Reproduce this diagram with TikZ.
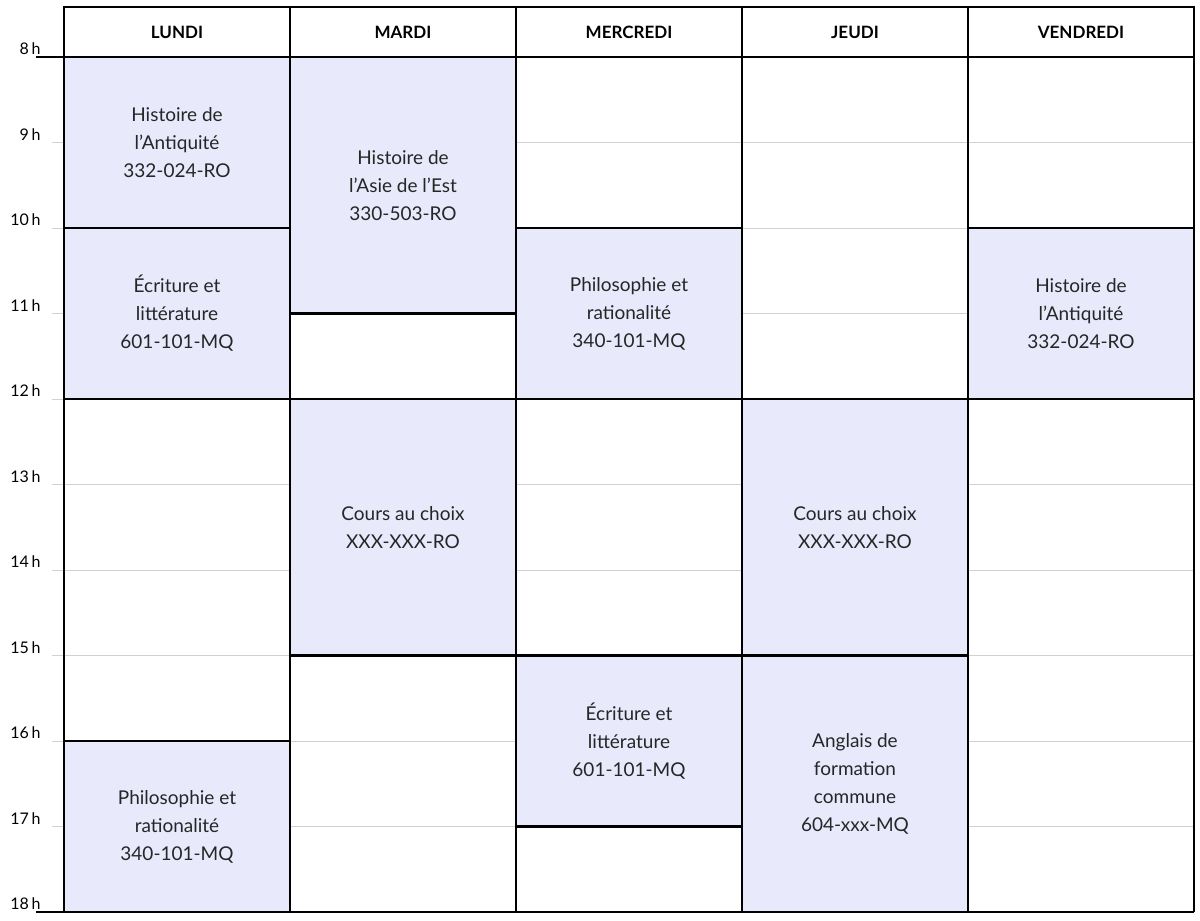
\documentclass[tikz,border=0pt]{standalone}
\usepackage{fontspec}
\setmainfont{Lato}
\definecolor{blk}{RGB}{232,234,252}
\begin{document}
\begin{tikzpicture}[x=1pt,y=-1pt,
  blockbox/.style={draw=black,line width=2.4pt,fill=blk},
  lbl/.style={align=center,font=\fontsize{19}{28}\selectfont,text=black!85},
  hdr/.style={font=\fontsize{17}{20}\selectfont\bfseries},
  hr/.style={font=\fontsize{16}{18}\selectfont,anchor=east}]
\useasboundingbox (0,0) rectangle (1200,921);
\fill[white] (0,0) rectangle (1200,921);
\def\Y#1{57+(#1-8)*85.5}
% hour lines and labels
\foreach \h in {8,...,18}{
  \draw[black!18,line width=1pt] (52,{\Y{\h}}) -- (1194,{\Y{\h}});
  \node[hr] (h\h) at (44,{\Y{\h}-8}) {\h\,h};
}
% blocks: col, start, end, name, text
\def\X#1{64+#1*226}
\newcommand\blockat[5]{%
  \draw[blockbox] ({\X{#1}},{\Y{#2}}) rectangle ({\X{#1}+226},{\Y{#3}});
  \node[lbl] (#4) at ({\X{#1}+113},{(\Y{#2}+\Y{#3})/2}) {#5};}
\blockat{0}{8}{10}{l1}{Histoire de\\l’Antiquité\\332-024-RO}
\blockat{0}{10}{12}{l2}{Écriture et\\littérature\\601-101-MQ}
\blockat{0}{16}{18}{l3}{Philosophie et\\rationalité\\340-101-MQ}
\blockat{1}{8}{11}{m1}{Histoire de\\l’Asie de l’Est\\330-503-RO}
\blockat{1}{12}{15}{m2}{Cours au choix\\XXX-XXX-RO}
\blockat{2}{10}{12}{w1}{Philosophie et\\rationalité\\340-101-MQ}
\blockat{2}{15}{17}{w2}{Écriture et\\littérature\\601-101-MQ}
\blockat{3}{12}{15}{j1}{Cours au choix\\XXX-XXX-RO}
\blockat{3}{15}{18}{j2}{Anglais de\\formation\\commune\\604-xxx-MQ}
\blockat{4}{10}{12}{v1}{Histoire de\\l’Antiquité\\332-024-RO}
% 12h line across all
\draw[line width=2.4pt] (64,{\Y{12}}) -- (1194,{\Y{12}});
% vertical column lines
\foreach \c in {0,...,5}{\draw[line width=2.4pt] ({\X{\c}},7) -- ({\X{\c}},{\Y{18}});}
% header
\draw[line width=2.4pt] (64,7) rectangle (1194,57);
\draw[line width=2.4pt] (36,57) -- (1194,57);
\draw[line width=2.4pt] (36,{\Y{18}}) -- (1194,{\Y{18}});
\foreach \c/\d in {0/LUNDI,1/MARDI,2/MERCREDI,3/JEUDI,4/VENDREDI}{
  \node[hdr] (d\c) at ({\X{\c}+113},32) {\d};}
\end{tikzpicture}
\end{document}
